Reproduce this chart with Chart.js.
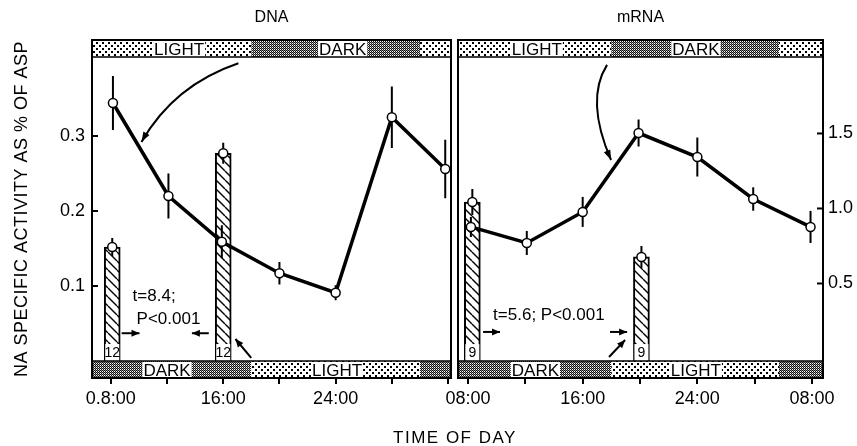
<!DOCTYPE html>
<html>
<head>
<meta charset="utf-8">
<script src="https://cdn.jsdelivr.net/npm/chart.js@4.4.1/dist/chart.umd.min.js"></script>
<style>
  body { margin: 0; background: #fff; }
  #wrap { position: relative; width: 857px; height: 446px; overflow: hidden; }
  canvas { position: absolute; top: 0; }
  #dnaChart { left: 0; }
  #rnaChart { left: 400px; }
  #xTitle {
    position: absolute; left: 0; top: 428px; width: 910px; text-align: center;
    font: 17px "Liberation Sans", Arial, sans-serif; letter-spacing: 1.5px; line-height: 20px;
  }
</style>
</head>
<body>
<div id="wrap">
  <canvas id="dnaChart" width="457" height="446"></canvas>
  <canvas id="rnaChart" width="457" height="446"></canvas>
  <div id="xTitle">TIME OF DAY</div>
</div>
<script>
// hours after 08:00
const tickHours = [0, 4, 8, 12, 16, 20, 24];
const dnaTickText = ['0.8:00', '', '16:00', '', '24:00', '', ''];
const rnaTickText = ['08:00', '', '16:00', '', '24:00', '', '08:00'];

// DNA panel
const dnaHours = [0.15, 4.1, 7.9, 12, 16, 20, 23.8];
const dnaValues = [0.344, 0.220, 0.159, 0.117, 0.091, 0.325, 0.256];
const dnaErrors = [0.036, 0.030, 0.022, 0.015, 0.010, 0.041, 0.039];
const dnaBarHours = [0.1, 8.0];
const dnaBarValues = [0.152, 0.277];
const dnaBarErrors = [0.012, 0.014];
const dnaBarN = ['12', '12'];
const dnaYTicks = [0.1, 0.2, 0.3];

// mRNA panel
const rnaHours = [0.2, 4.1, 8.0, 11.9, 16, 19.9, 23.9];
const rnaValues = [0.877, 0.770, 0.977, 1.503, 1.343, 1.063, 0.877];
const rnaErrors = [0.067, 0.080, 0.100, 0.090, 0.130, 0.078, 0.107];
const rnaBarHours = [0.3, 12.1];
const rnaBarValues = [1.043, 0.677];
const rnaBarErrors = [0.087, 0.073];
const rnaBarN = ['9', '9'];
const rnaYTicks = [0.5, 1.0, 1.5];

// dark part of the top strip (bottom strip is the reverse)
const dnaDarkSpan = [10, 22];
const rnaDarkSpan = [10, 21.7];

const FONT = '"Liberation Sans", Arial, sans-serif';
Chart.defaults.font.family = FONT;
Chart.defaults.color = '#000';

const helper = document.getElementById('dnaChart').getContext('2d');
function makePattern(size, paint) {
  const c = document.createElement('canvas');
  c.width = c.height = size;
  const g = c.getContext('2d');
  g.fillStyle = '#fff';
  g.fillRect(0, 0, size, size);
  paint(g, size);
  return helper.createPattern(c, 'repeat');
}
const lightDots = makePattern(6, (g) => {
  g.fillStyle = '#000';
  g.fillRect(0, 0, 2, 2);
  g.fillRect(3, 3, 2, 2);
});
const darkDots = makePattern(2, (g) => {
  g.fillStyle = '#111';
  g.fillRect(0, 0, 1, 1);
  g.fillRect(1, 1, 1, 1);
  g.fillStyle = '#888';
  g.fillRect(1, 0, 1, 1);
});
const hatch = makePattern(9, (g, s) => {
  g.strokeStyle = '#000';
  g.lineWidth = 1.4;
  for (const k of [-s, 0, s]) {
    g.beginPath();
    g.moveTo(k, 0);
    g.lineTo(k + s, s);
    g.stroke();
  }
});

const BAND = 17;

function arrowHead(ctx, x1, y1, x2, y2, len, half) {
  const ang = Math.atan2(y2 - y1, x2 - x1);
  ctx.beginPath();
  ctx.moveTo(x2, y2);
  ctx.lineTo(x2 - len * Math.cos(ang) + half * Math.sin(ang), y2 - len * Math.sin(ang) - half * Math.cos(ang));
  ctx.lineTo(x2 - len * Math.cos(ang) - half * Math.sin(ang), y2 - len * Math.sin(ang) + half * Math.cos(ang));
  ctx.closePath();
  ctx.fill();
}

function drawBand(ctx, a, x, top, span, inverted, labels) {
  const x1 = x.getPixelForValue(span[0]);
  const x2 = x.getPixelForValue(span[1]);
  const outer = inverted ? darkDots : lightDots;
  const inner = inverted ? lightDots : darkDots;
  ctx.fillStyle = outer;
  ctx.fillRect(a.left, top, x1 - a.left, BAND);
  ctx.fillRect(x2, top, a.right - x2, BAND);
  ctx.fillStyle = inner;
  ctx.fillRect(x1, top, x2 - x1, BAND);
  ctx.font = '17px ' + FONT;
  ctx.textAlign = 'center';
  ctx.textBaseline = 'middle';
  labels.forEach(([text, h]) => {
    const cx = x.getPixelForValue(h);
    const w = ctx.measureText(text).width;
    ctx.fillStyle = '#fff';
    ctx.fillRect(cx - w / 2 - 1, top + 1, w + 2, BAND - 1);
    ctx.fillStyle = '#000';
    ctx.fillText(text, cx, top + BAND / 2 + 1.5);
  });
}

function decor(p) {
  return {
    id: 'decor',
    beforeDatasetsDraw(chart) {
      const { ctx, chartArea: a, scales: { x } } = chart;
      ctx.save();
      drawBand(ctx, a, x, a.top, p.darkSpan, false, p.topLabels);
      drawBand(ctx, a, x, a.bottom - BAND, p.darkSpan, true, p.bottomLabels);
      ctx.restore();
    },
    // error bars go under the line and the open circles
    beforeDatasetDraw(chart, args) {
      const ds = chart.data.datasets[args.index];
      if (!ds.errors) return;
      const { ctx, scales: { y } } = chart;
      ctx.save();
      ctx.strokeStyle = '#000';
      ctx.lineWidth = 2;
      args.meta.data.forEach((pt, i) => {
        const v = ds.data[i].y, e = ds.errors[i];
        ctx.beginPath();
        ctx.moveTo(pt.x, y.getPixelForValue(v + e));
        ctx.lineTo(pt.x, y.getPixelForValue(v - e));
        ctx.stroke();
      });
      ctx.restore();
    },
    afterDatasetsDraw(chart) {
      const { ctx, scales: { x, y } } = chart;
      ctx.save();
      // n inside each bar
      const bars = chart.getDatasetMeta(0).data;
      ctx.font = '14px ' + FONT;
      ctx.textAlign = 'center';
      ctx.textBaseline = 'middle';
      bars.forEach((b, i) => {
        ctx.fillStyle = '#fff';
        ctx.fillRect(b.x - b.width / 2 + 1, b.base - 17, b.width - 2, 17);
        ctx.fillStyle = '#000';
        ctx.fillText(p.barN[i], b.x, b.base - 8);
      });
      // t-test notes
      ctx.font = '17px ' + FONT;
      ctx.textAlign = 'left';
      p.notes.forEach(([text, h, v]) => {
        ctx.fillText(text, x.getPixelForValue(h), y.getPixelForValue(v));
      });
      ctx.strokeStyle = '#000';
      ctx.fillStyle = '#000';
      ctx.lineWidth = 2;
      p.arrows.forEach(([h1, v1, h2, v2]) => {
        const x1 = x.getPixelForValue(h1), y1 = y.getPixelForValue(v1);
        const x2 = x.getPixelForValue(h2), y2 = y.getPixelForValue(v2);
        ctx.beginPath();
        ctx.moveTo(x1, y1);
        ctx.lineTo(x2, y2);
        ctx.stroke();
        arrowHead(ctx, x1, y1, x2, y2, 8, 3.5);
      });
      const [h0, v0, hc, vc, h1, v1] = p.curve;
      const cx = x.getPixelForValue(hc), cy = y.getPixelForValue(vc);
      const ex = x.getPixelForValue(h1), ey = y.getPixelForValue(v1);
      ctx.beginPath();
      ctx.moveTo(x.getPixelForValue(h0), y.getPixelForValue(v0));
      ctx.quadraticCurveTo(cx, cy, ex, ey);
      ctx.stroke();
      arrowHead(ctx, cx, cy, ex, ey, 10, 3.5);
      ctx.restore();
    },
    afterDraw(chart) {
      const { ctx, chartArea: a, scales: { y } } = chart;
      ctx.save();
      ctx.strokeStyle = '#000';
      ctx.lineWidth = 2;
      ctx.strokeRect(a.left, a.top, a.right - a.left, a.bottom - a.top);
      ctx.lineWidth = 1.5;
      ctx.beginPath();
      ctx.moveTo(a.left, a.top + BAND);
      ctx.lineTo(a.right, a.top + BAND);
      ctx.moveTo(a.left, a.bottom - BAND);
      ctx.lineTo(a.right, a.bottom - BAND);
      ctx.stroke();
      // inward ticks on the value axis
      ctx.lineWidth = 2;
      const edge = p.yPos === 'left' ? a.left : a.right;
      const dir = p.yPos === 'left' ? 1 : -1;
      y.ticks.forEach((t) => {
        const py = y.getPixelForValue(t.value);
        ctx.beginPath();
        ctx.moveTo(edge, py);
        ctx.lineTo(edge + dir * 6, py);
        ctx.stroke();
      });
      ctx.fillStyle = '#000';
      ctx.font = '16px ' + FONT;
      ctx.textAlign = 'center';
      ctx.textBaseline = 'middle';
      ctx.fillText(p.title, (a.left + a.right) / 2, 18);
      if (p.yTitle) {
        ctx.translate(22, (a.top + a.bottom) / 2);
        ctx.rotate(-Math.PI / 2);
        ctx.font = '18px ' + FONT;
        ctx.letterSpacing = '0.5px';
        ctx.fillText(p.yTitle, 0, 0);
      }
      ctx.restore();
    }
  };
}

function panelChart(id, p) {
  const pts = (hs, vs) => hs.map((h, i) => ({ x: h, y: vs[i] }));
  const dot = {
    borderColor: '#000',
    pointRadius: 4.5,
    pointBackgroundColor: '#fff',
    pointBorderColor: '#000',
    pointBorderWidth: 1.5
  };
  return new Chart(document.getElementById(id), {
    type: 'line',
    data: {
      datasets: [
        {
          type: 'bar',
          data: pts(p.barHours, p.barValues),
          backgroundColor: hatch,
          borderColor: '#000',
          borderWidth: 2,
          barThickness: 16,
          base: p.barBase,
          order: 3
        },
        {
          data: pts(p.hours, p.values),
          errors: p.errors,
          borderWidth: 3.5,
          order: 2,
          ...dot
        },
        {
          data: pts(p.barHours, p.barValues),
          errors: p.barErrors,
          showLine: false,
          order: 1,
          ...dot
        }
      ]
    },
    options: {
      responsive: false,
      animation: false,
      layout: { padding: p.padding },
      plugins: { legend: { display: false }, tooltip: { enabled: false } },
      scales: {
        x: {
          type: 'linear',
          offset: false,
          min: p.xMin,
          max: p.xMax,
          afterBuildTicks: (s) => { s.ticks = tickHours.map((v) => ({ value: v })); },
          afterFit: (s) => { s.height = 30; s.paddingLeft = 0; s.paddingRight = 0; },
          ticks: {
            callback: (v) => p.tickText[tickHours.indexOf(v)],
            autoSkip: false,
            maxRotation: 0,
            font: { size: 18 },
            padding: 4
          },
          grid: { offset: false, drawOnChartArea: false, tickLength: 6, lineWidth: 2, color: '#000' },
          border: { display: false }
        },
        y: {
          position: p.yPos,
          min: p.yMin,
          max: p.yMax,
          afterBuildTicks: (s) => { s.ticks = p.yTicks.map((v) => ({ value: v })); },
          afterFit: (s) => { s.width = p.yWidth; s.paddingTop = 0; s.paddingBottom = 0; },
          ticks: { callback: (v) => v.toFixed(1), font: { size: 18 }, padding: p.yPad },
          grid: { display: false, drawTicks: false },
          border: { display: false }
        }
      }
    },
    plugins: [decor(p)]
  });
}

panelChart('dnaChart', {
  title: 'DNA',
  yTitle: 'NA SPECIFIC ACTIVITY AS % OF ASP',
  hours: dnaHours, values: dnaValues, errors: dnaErrors,
  barHours: dnaBarHours, barValues: dnaBarValues, barErrors: dnaBarErrors, barN: dnaBarN,
  barBase: 0,
  tickText: dnaTickText,
  yTicks: dnaYTicks,
  xMin: -1.34, xMax: 24.21,
  yMin: -0.0227, yMax: 0.428,
  yPos: 'left', yWidth: 92, yPad: 7,
  padding: { top: 40, right: 2, bottom: 38, left: 0 },
  darkSpan: dnaDarkSpan,
  topLabels: [['LIGHT', 4.86], ['DARK', 16.5]],
  bottomLabels: [['DARK', 4.0], ['LIGHT', 16.1]],
  notes: [['t=8.4;', 1.55, 0.0867], ['P<0.001', 1.83, 0.056]],
  arrows: [[0.77, 0.037, 2.04, 0.037], [6.97, 0.037, 5.77, 0.037], [9.99, 0.004, 8.87, 0.0293]],
  curve: [9.08, 0.397, 4.5, 0.368, 2.18, 0.292]
});

panelChart('rnaChart', {
  title: 'mRNA',
  hours: rnaHours, values: rnaValues, errors: rnaErrors,
  barHours: rnaBarHours, barValues: rnaBarValues, barErrors: rnaBarErrors, barN: rnaBarN,
  barBase: -0.017,
  tickText: rnaTickText,
  yTicks: rnaYTicks,
  xMin: -0.70, xMax: 24.77,
  yMin: -0.13, yMax: 2.123,
  yPos: 'right', yWidth: 34, yPad: 5,
  padding: { top: 40, right: 0, bottom: 38, left: 58 },
  darkSpan: rnaDarkSpan,
  topLabels: [['LIGHT', 4.8], ['DARK', 15.9]],
  bottomLabels: [['DARK', 4.7], ['LIGHT', 15.9]],
  notes: [['t=5.6; P<0.001', 1.75, 0.29]],
  arrows: [[1.05, 0.177, 2.23, 0.177], [9.91, 0.177, 11.1, 0.177], [9.84, 0.01, 10.96, 0.123]],
  curve: [9.7, 1.957, 8.16, 1.723, 9.98, 1.323]
});
</script>
</body>
</html>
